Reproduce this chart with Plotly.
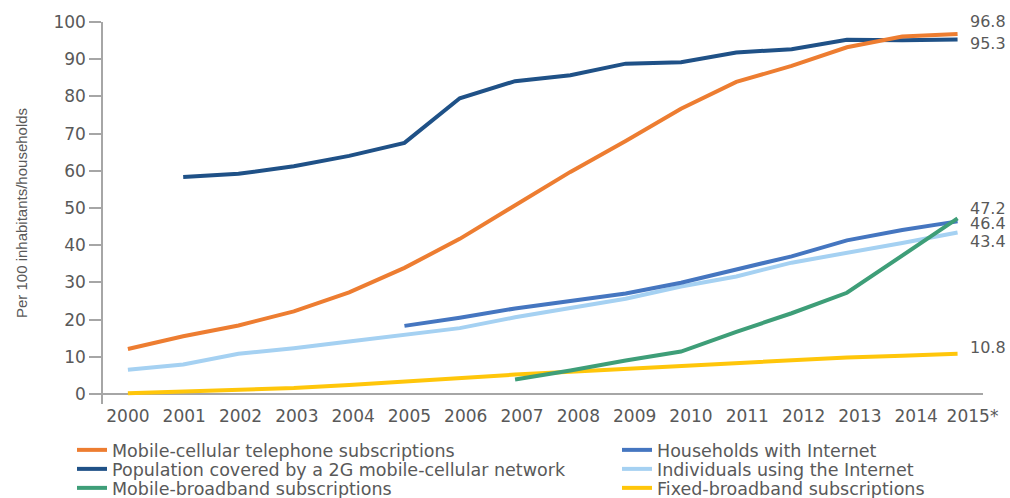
import plotly.graph_objects as go

years = list(range(2000, 2016))
tick_text = [str(y) for y in range(2000, 2015)] + ["2015*"]

mobile_cellular = [12.1, 15.5, 18.4, 22.2, 27.3, 33.9, 41.7, 50.6, 59.7, 68.0, 76.7, 83.9, 88.2, 93.2, 96.1, 96.8]
pop_2g_years = list(range(2001, 2016))
pop_2g = [58.3, 59.2, 61.2, 64.0, 67.5, 79.5, 84.1, 85.7, 88.8, 89.2, 91.8, 92.7, 95.2, 95.1, 95.3]
hh_years = list(range(2005, 2016))
households = [18.3, 20.5, 23.0, 24.9, 27.0, 29.9, 33.5, 37.0, 41.3, 44.1, 46.4]
individuals = [6.5, 7.9, 10.8, 12.3, 14.1, 15.9, 17.7, 20.6, 23.1, 25.6, 28.9, 31.6, 35.3, 37.9, 40.6, 43.4]
mb_years = list(range(2007, 2016))
mobile_broadband = [3.9, 6.3, 9.0, 11.4, 16.7, 21.7, 27.2, 37.2, 47.2]
fixed_broadband = [0.2, 0.6, 1.0, 1.6, 2.4, 3.4, 4.3, 5.2, 6.0, 6.8, 7.6, 8.4, 9.0, 9.8, 10.3, 10.8]

end_labels = ["96.8", "95.3", "47.2", "46.4", "43.4", "10.8"]
end_values = [96.8, 95.3, 47.2, 46.4, 43.4, 10.8]
end_shifts = [12, -4, 10, -2, -9, 6]

C_ORANGE = "#ED7D31"
C_DARK = "#1F5187"
C_HH = "#4576C0"
C_IND = "#A5D1F2"
C_GREEN = "#3E9E78"
C_YELLOW = "#FFC60A"
TXT = "#595959"
FONT = "DejaVu Sans"

# year labels in the original are spread slightly wider than the data points
LABEL_STRETCH = 1.018

# plot area: l=103, r=27, t=22, b=94 -> width 880, height 382
PW, PH, ML, MB = 880.0, 382.0, 103.0, 94.0


def px_x(px):
    return (px - ML) / PW


def px_y(py):
    return (498.0 - MB - py) / PH


W = 4
# (name, x, y, color, legend id, legend text-left px, row-center px)
series = [
    ("Individuals using the Internet", years, individuals, C_IND, "legend5", 657, 469),
    ("Households with Internet", hh_years, households, C_HH, "legend4", 657, 450),
    ("Fixed-broadband subscriptions", years, fixed_broadband, C_YELLOW, "legend6", 657, 488),
    ("Mobile-broadband subscriptions", mb_years, mobile_broadband, C_GREEN, "legend3", 112, 488),
    ("Population covered by a 2G mobile-cellular network", pop_2g_years, pop_2g, C_DARK, "legend2", 112, 469),
    ("Mobile-cellular telephone subscriptions", years, mobile_cellular, C_ORANGE, "legend", 112, 450),
]

fig = go.Figure()
legend_layouts = {}
for name, xs, ys, col, lg, tx, cy in series:
    fig.add_trace(go.Scatter(x=xs, y=ys, mode="lines", name=name,
                             line=dict(color=col, width=W), legend=lg))
    legend_layouts[lg] = dict(x=px_x(tx - 40), y=px_y(cy), xanchor="left", yanchor="middle",
                              orientation="v", font=dict(family=FONT, size=17.5, color=TXT),
                              bgcolor="rgba(0,0,0,0)", borderwidth=0)

annotations = []
for lab, v, s in zip(end_labels, end_values, end_shifts):
    annotations.append(dict(x=2015.19, y=v, xref="x", yref="y", text=lab, showarrow=False,
                            xanchor="left", yanchor="middle", yshift=s,
                            font=dict(family=FONT, size=16, color=TXT)))

fig.update_layout(
    width=1010, height=498,
    margin=dict(l=103, r=27, t=22, b=94, autoexpand=False),
    paper_bgcolor="white", plot_bgcolor="white",
    font=dict(family=FONT, size=15, color=TXT),
    showlegend=True,
    annotations=annotations,
    **legend_layouts,
)
label_pos = [years[0] + (y - years[0]) * LABEL_STRETCH for y in years]
fig.update_xaxes(range=[1999.55, 2015.46], tickmode="array", tickvals=label_pos, ticktext=tick_text,
                 showgrid=False, showline=False, zeroline=False, ticks="",
                 tickfont=dict(family=FONT, size=17, color=TXT), fixedrange=True)
fig.update_yaxes(range=[-2.7, 100], tickmode="array", tickvals=list(range(0, 101, 10)),
                 showgrid=False, showline=True, linecolor="#A6A6A6", linewidth=1.5,
                 zeroline=True, zerolinecolor="#A6A6A6", zerolinewidth=1.5,
                 ticks="outside", ticklen=12, tickcolor="#A6A6A6", tickwidth=1.5,
                 tickfont=dict(family=FONT, size=17, color=TXT),
                 title=dict(text="Per 100 inhabitants/households", standoff=22,
                            font=dict(family="Liberation Sans Narrow, Liberation Sans", size=15, color=TXT)),
                 fixedrange=True)

fig.write_html("out.html", config={"displayModeBar": False},
               post_script="document.body.style.margin='0';document.body.style.overflow='hidden';")
